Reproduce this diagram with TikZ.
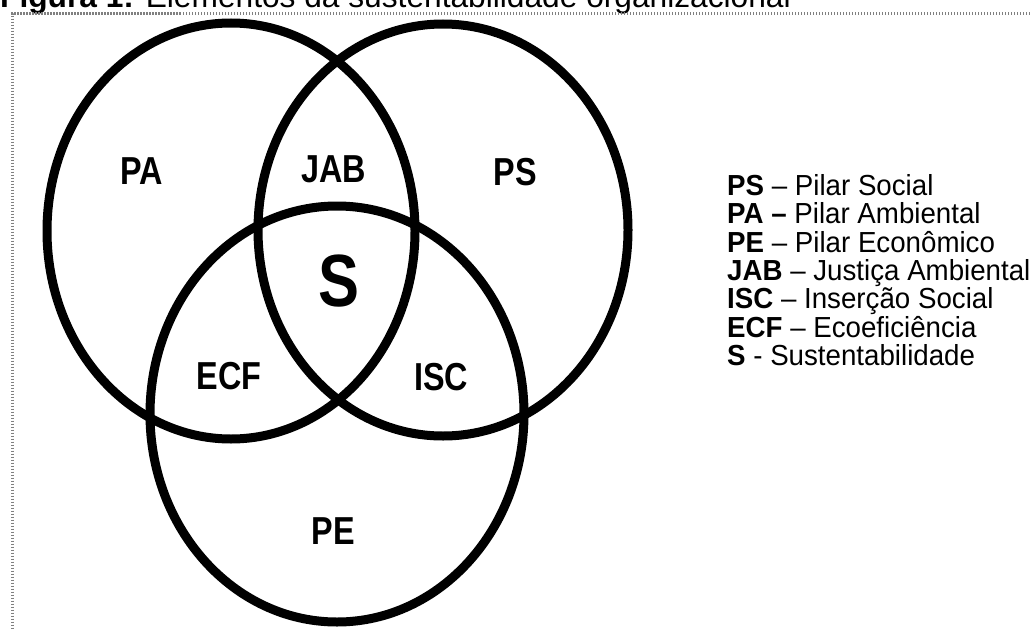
\documentclass[tikz,border=0pt]{standalone}
\usepackage{fontspec}
\setmainfont{Liberation Sans}
\begin{document}
\begin{tikzpicture}[x=1pt,y=-1pt,
  ring/.style={draw=black,line width=9pt},
  lab/.style={font=\fontsize{39}{42}\selectfont\bfseries,inner sep=0pt,xscale=0.83},
  biglab/.style={font=\fontsize{74}{76}\selectfont\bfseries,inner sep=0pt,xscale=0.83},
  leg/.style={font=\fontsize{29}{32}\selectfont,anchor=base west,inner sep=0pt,xscale=0.955},
  frameline/.style={draw=gray,line width=3pt,dash pattern=on 1.5pt off 1.5pt}]
\useasboundingbox (0,0) rectangle (1030,629);
\clip (0,0) rectangle (1030,629);
\fill[white] (0,0) rectangle (1030,629);
% title (cut at top)
\node[anchor=base west,inner sep=0pt,font=\fontsize{31.7}{34}\selectfont] (title) at (0,8) {\textbf{Figura 1:} Elementos da sustentabilidade organizacional};
% dotted frame
\coordinate (f1) at (12,13.5);
\coordinate (f2) at (1030,13.5);
\coordinate (f3) at (12,629);
\draw[frameline] (f2) -- (f1) -- (f3);
% circles
\draw[ring] (231,231) ellipse [x radius=184, y radius=208];
\draw[ring] (443,230) ellipse [x radius=185, y radius=206];
\draw[ring] (337,414) ellipse [x radius=187, y radius=208];
% labels
\node[lab] (pa) at (142,171) {PA};
\node[lab] (jab) at (334,169) {JAB};
\node[lab] (ps) at (515,172) {PS};
\node[biglab] (s) at (339,281) {S};
\node[lab] (ecf) at (229,376) {ECF};
\node[lab] (isc) at (441,377) {ISC};
\node[lab] (pe) at (333,531) {PE};
% legend
\node[leg] (l1) at (727,195.5) {\textbf{PS} -- Pilar Social};
\node[leg] (l2) at (727,223.8) {\textbf{PA --} Pilar Ambiental};
\node[leg] (l3) at (727,252.1) {\textbf{PE} -- Pilar Econômico};
\node[leg] (l4) at (727,280.4) {\textbf{JAB} -- Justiça Ambiental};
\node[leg] (l5) at (727,308.7) {\textbf{ISC} -- Inserção Social};
\node[leg] (l6) at (727,337) {\textbf{ECF} -- Ecoeficiência};
\node[leg] (l7) at (727,365.3) {\textbf{S} - Sustentabilidade};
\end{tikzpicture}
\end{document}
